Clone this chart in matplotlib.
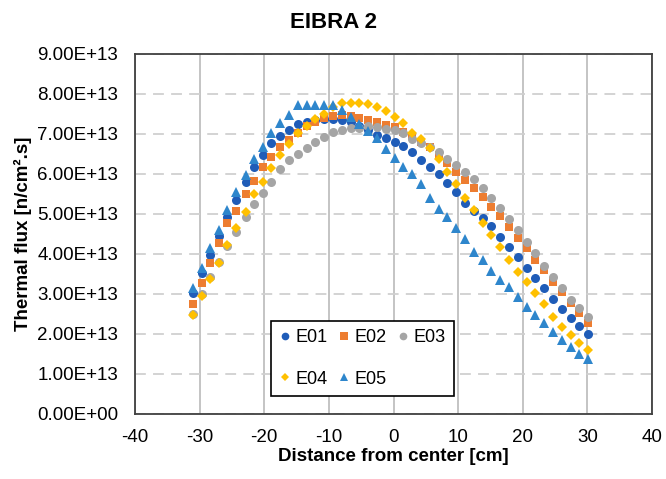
import matplotlib
matplotlib.use("Agg")
import matplotlib.pyplot as plt

plt.rcParams['font.family'] = ['Liberation Sans', 'DejaVu Sans']

title = "EIBRA 2"
x_label = "Distance from center [cm]"
y_label = "Thermal flux [n/cm\u00b2.s]"

x_cm = [-31.1, -29.7, -28.4, -27.0, -25.7, -24.3, -22.9, -21.6, -20.2, -18.9,
        -17.5, -16.1, -14.8, -13.4, -12.1, -10.7, -9.3, -8.0, -6.6, -5.3,
        -3.9, -2.5, -1.2, 0.2, 1.5, 2.9, 4.3, 5.6, 7.0, 8.3,
        9.7, 11.1, 12.4, 13.8, 15.1, 16.5, 17.9, 19.2, 20.6, 21.9,
        23.3, 24.7, 26.0, 27.4, 28.7, 30.1]

# values in units of 1e13 n/cm2.s
e01 = [3.02, 3.52, 3.98, 4.45, 4.93, 5.35, 5.80, 6.18, 6.48, 6.78,
       6.95, 7.10, 7.25, 7.30, 7.35, 7.38, 7.38, 7.35, 7.30, 7.20,
       7.10, 6.98, 6.90, 6.80, 6.70, 6.55, 6.35, 6.18, 6.00, 5.78,
       5.55, 5.28, 5.08, 4.90, 4.70, 4.43, 4.18, 3.93, 3.65, 3.40,
       3.15, 2.88, 2.63, 2.40, 2.20, 2.00]
e02 = [2.75, 3.28, 3.78, 4.28, 4.78, 5.08, 5.50, 5.83, 6.17, 6.43,
       6.68, 6.85, 7.03, 7.20, 7.30, 7.40, 7.45, 7.47, 7.45, 7.40,
       7.35, 7.30, 7.23, 7.18, 7.05, 6.95, 6.80, 6.68, 6.48, 6.28,
       6.05, 5.85, 5.65, 5.43, 5.17, 4.95, 4.68, 4.40, 4.15, 3.85,
       3.60, 3.30, 3.05, 2.78, 2.53, 2.28]
e03 = [2.50, 3.00, 3.42, 3.80, 4.20, 4.55, 4.93, 5.25, 5.53, 5.80,
       6.13, 6.35, 6.50, 6.65, 6.80, 6.93, 7.05, 7.10, 7.15, 7.15,
       7.20, 7.18, 7.12, 7.10, 7.03, 6.88, 6.78, 6.68, 6.55, 6.38,
       6.23, 6.05, 5.88, 5.65, 5.40, 5.15, 4.88, 4.60, 4.30, 4.02,
       3.70, 3.43, 3.15, 2.85, 2.65, 2.43]
e04 = [2.48, 2.95, 3.38, 3.78, 4.22, 4.65, 5.05, 5.50, 5.80, 6.15,
       6.48, 6.75, 7.03, 7.20, 7.38, 7.50, 7.68, 7.78, 7.78, 7.78,
       7.75, 7.68, 7.58, 7.43, 7.28, 7.03, 6.88, 6.65, 6.38, 6.05,
       5.75, 5.40, 5.10, 4.78, 4.48, 4.18, 3.85, 3.55, 3.30, 3.03,
       2.75, 2.43, 2.18, 1.98, 1.78, 1.60]
e05 = [3.15, 3.65, 4.15, 4.60, 5.10, 5.55, 5.98, 6.38, 6.68, 7.02,
       7.27, 7.48, 7.73, 7.73, 7.73, 7.73, 7.73, 7.60, 7.43, 7.25,
       7.08, 6.90, 6.63, 6.40, 6.18, 6.00, 5.75, 5.40, 5.13, 4.93,
       4.65, 4.38, 4.05, 3.85, 3.58, 3.35, 3.18, 2.93, 2.68, 2.48,
       2.28, 2.05, 1.85, 1.68, 1.50, 1.37]

series_names = ["E01", "E02", "E03", "E04", "E05"]
series_vals = [e01, e02, e03, e04, e05]
colors = ["#1F5CB8", "#ED7D31", "#A5A5A5", "#FFC000", "#2E86CC"]
markers = ["o", "s", "o", "D", "^"]
msizes = [6.5, 6.0, 6.5, 5.0, 7.0]

y_ticks = [0, 1, 2, 3, 4, 5, 6, 7, 8, 9]
y_tick_labels = ["%.2fE+%02d" % (v, 13) if v > 0 else "0.00E+00" for v in y_ticks]
x_ticks = [-40, -30, -20, -10, 0, 10, 20, 30, 40]

fig = plt.figure(figsize=(6.66, 4.79), dpi=100)
ax = fig.add_axes([135/666, 1-414/479, (652-135)/666, (414-54)/479])

handles = {}
for name, vals, c, m, s in zip(series_names, series_vals, colors, markers, msizes):
    h, = ax.plot(x_cm, vals, linestyle='none', marker=m, color=c, markersize=s,
                 markeredgewidth=0, label=name, zorder=3)
    handles[name] = h

ax.set_xlim(-40, 40)
ax.set_ylim(0, 9)
ax.set_xticks(x_ticks)
ax.set_xticklabels([str(t) for t in x_ticks])
ax.set_yticks(y_ticks)
ax.set_yticklabels(y_tick_labels)
ax.tick_params(axis='both', length=0, labelsize=13.5, colors='#000000')
ax.tick_params(axis='y', pad=12)
ax.tick_params(axis='x', pad=11)

ax.xaxis.grid(True, color='#BFBFBF', linewidth=1.3, linestyle='-', zorder=0)
ax.yaxis.grid(True, color='#D0D0D0', linewidth=1.3, linestyle=(0, (6, 4)), zorder=0)
ax.set_axisbelow(True)
for sp in ax.spines.values():
    sp.set_color('#404040')
    sp.set_linewidth(1.3)

ax.set_xlabel(x_label, fontsize=13.5, fontweight='bold', labelpad=1)
ax.set_ylabel(y_label, fontsize=13.5, fontweight='bold', labelpad=4)
fig.text(0.5, 1-22/479, title, ha='center', va='center', fontsize=16, fontweight='bold')

order = ["E01", "E04", "E02", "E05", "E03"]
leg = ax.legend([handles[n] for n in order], order,
                loc='upper left', bbox_to_anchor=(271/666, 1-321/479),
                bbox_transform=fig.transFigure, ncol=3, fontsize=13,
                frameon=True, fancybox=False, edgecolor='#000000', framealpha=1,
                handlelength=0.6, handletextpad=0.3, columnspacing=0.6,
                labelspacing=1.35, borderpad=0.45, borderaxespad=0, markerscale=0.85)
leg.get_frame().set_linewidth(1.2)

fig.savefig("out.png", dpi=100)
